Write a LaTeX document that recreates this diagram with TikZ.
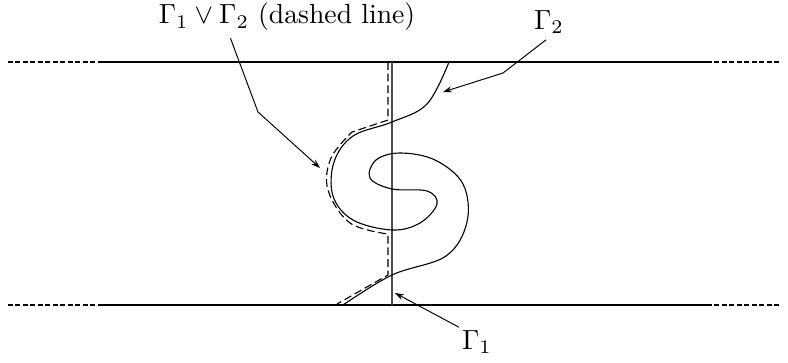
\documentclass[tikz,border=0pt]{standalone}
\usepackage{amsmath}
\usepackage{amssymb}
\usepackage{xcolor}
\usetikzlibrary{arrows.meta}

\begin{document}
\begin{tikzpicture}[x=0.0127cm, y=-0.0127cm,
    pointer/.style={-{Stealth[length=3.2pt,width=2.2pt]}, line width=0.35pt},
    farline/.style={dash pattern=on 1.8pt off 0.9pt},
    joinline/.style={dash pattern=on 2.8pt off 1.4pt}]
  \useasboundingbox (0,0) rectangle (788,362);

  % the strip
  \foreach \y in {62,305} {
    \draw (99,\y) -- (707,\y);
    \draw[farline] (8,\y) -- (99,\y);
    \draw[farline] (707,\y) -- (780,\y);
  }

  % Gamma_1
  \draw[black!70] (392,62) -- (392,305);

  % Gamma_2
  \draw plot[smooth, tension=0.6] coordinates {
    (343,305) (392,275) (446,256) (467,222) (463,184) (435,160)
    (400,153) (376,160) (370,178) (392,189) (427,191)
    (437,204) (420,223) (392,230) (353,220) (333,196) (334,162)
    (353,136) (392,122) (427,104) (449,62)};

  % Gamma_1 v Gamma_2
  \draw[joinline] (388,62) -- (388,120) -- plot[smooth, tension=0.6] coordinates {
    (352,132) (331,158) (328,190) (350,223) (388,234)}
    -- (388,275) -- (337,304);

  % labels
  \node[inner sep=1pt] (join) at (287,17) {$\Gamma_1 \vee \Gamma_2$ (dashed line)};
  \node[inner sep=1pt] (g2) at (549,22) {$\Gamma_2$};
  \node[inner sep=1pt] (g1) at (477,342) {$\Gamma_1$};

  \coordinate (bendA) at (258,112);
  \coordinate (tipA) at (320,168);
  \coordinate (bendB) at (503,73);
  \coordinate (tipB) at (443,92);
  \coordinate (tipC) at (395,293);

  \draw[pointer] (join.south west) ++(75,4) -- (bendA) -- (tipA);
  \draw[pointer] (g2.south) ++(-3,3) -- (bendB) -- (tipB);
  \draw[pointer] (g1.north west) -- (tipC);
\end{tikzpicture}
\end{document}
